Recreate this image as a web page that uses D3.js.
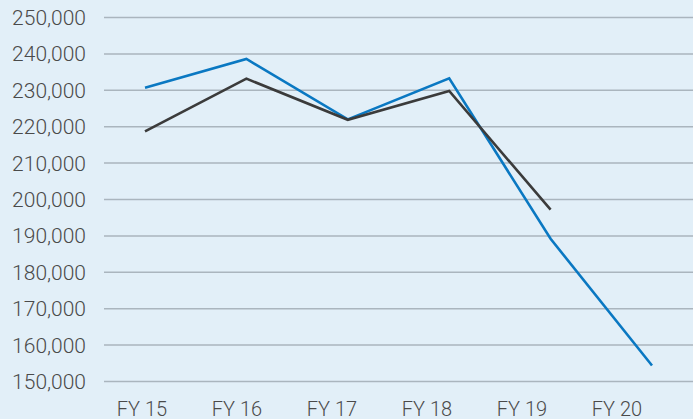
<!DOCTYPE html>
<html>
<head>
<meta charset="utf-8">
<script src="https://cdn.jsdelivr.net/npm/d3@7"></script>
<style>
  html, body { margin: 0; padding: 0; background: #e2eff8; }
  text { font-family: Roboto, "Liberation Sans", sans-serif; font-weight: 300; fill: #4a4a4a; }
</style>
</head>
<body>
<div id="chart"></div>
<script>
    var width = 693;
    var height = 419;

    // values
    var categories = ["FY 15", "FY 16", "FY 17", "FY 18", "FY 19", "FY 20"];
    var blueValues = [230700, 238600, 222000, 233300, 189200, 154400];
    var darkValues = [218700, 233200, 221900, 229800, 197200];
    var yTicks = [150000, 160000, 170000, 180000, 190000, 200000, 210000, 220000, 230000, 240000, 250000];

    var svg = d3.select("#chart")
                .append("svg")
                .attr("width", width)
                .attr("height", height);

    svg.append("rect")
       .attr("width", width).attr("height", height)
       .attr("fill", "#e2eff8");

    // points and labels are not quite on the same spacing in the original
    var x = d3.scalePoint()
              .domain(categories)
              .range([145, 652]);

    var xLabel = d3.scalePoint()
                   .domain(categories)
                   .range([142, 617]);

    var y = d3.scaleLinear()
              .domain([150000, 250000])
              .range([381.5, 17.5]);

    // gridlines
    svg.append("g")
       .selectAll("line")
       .data(yTicks)
       .enter().append("line")
       .attr("x1", 104).attr("x2", width)
       .attr("y1", function(d) { return y(d); })
       .attr("y2", function(d) { return y(d); })
       .attr("stroke", "#aab5be")
       .attr("stroke-width", 1.5);

    // y labels
    svg.append("g")
       .selectAll("text")
       .data(yTicks)
       .enter().append("text")
       .attr("x", 86)
       .attr("y", function(d) { return y(d) + 7.5; })
       .attr("text-anchor", "end")
       .style("font-size", "21px")
       .text(d3.format(","));

    // x labels
    svg.append("g")
       .selectAll("text")
       .data(categories)
       .enter().append("text")
       .attr("x", function(d) { return xLabel(d); })
       .attr("y", 416)
       .attr("text-anchor", "middle")
       .style("font-size", "20px")
       .text(function(d) { return d; });

    var line = d3.line()
                 .x(function(d, i) { return x(categories[i]); })
                 .y(function(d) { return y(d); });

    svg.append("path")
       .datum(blueValues)
       .attr("d", line)
       .attr("fill", "none")
       .attr("stroke", "#0a78c2")
       .attr("stroke-width", 2.6);

    svg.append("path")
       .datum(darkValues)
       .attr("d", line)
       .attr("fill", "none")
       .attr("stroke", "#3b3b3b")
       .attr("stroke-width", 2.6);
</script>
</body>
</html>
